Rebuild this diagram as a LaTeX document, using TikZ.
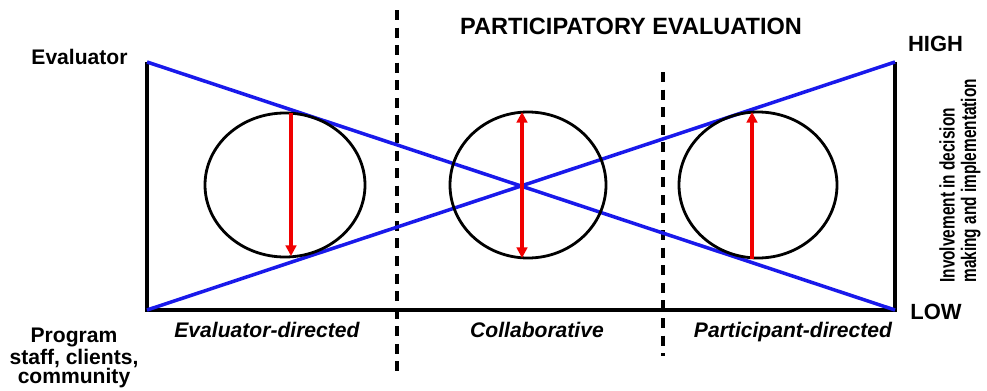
\documentclass[tikz,border=0pt]{standalone}
\usepackage{fontspec}
\setmainfont{Liberation Sans}
\newfontfamily\narrowfont[FakeStretch=0.73]{Liberation Sans}
\usetikzlibrary{arrows.meta}
\definecolor{lineblue}{RGB}{25,25,235}
\definecolor{arrowred}{RGB}{240,0,0}

\begin{document}
\begin{tikzpicture}[x=0.2mm,y=-0.2mm,
  >={Triangle[width=6pt,length=6pt]},
  frame/.style={line width=2pt,black},
  trend/.style={line width=2pt,lineblue},
  ring/.style={line width=1.6pt,black},
  reach/.style={line width=2pt,arrowred},
  divider/.style={line width=1.9pt,dash pattern=on 5.7pt off 4.3pt},
  lbl/.style={font=\bfseries\fontsize{12}{10.8}\selectfont,inner sep=0pt},
  mode/.style={font=\bfseries\itshape\fontsize{12}{14}\selectfont,inner sep=0pt,anchor=base}]
  \useasboundingbox (0,0) rectangle (987,390);
  % frame
  \coordinate (tl) at (147,62);
  \coordinate (bl) at (147,310);
  \coordinate (br) at (895,310);
  \coordinate (tr) at (895,62);
  \draw[frame] (tl) -- (bl) -- (br) -- (tr);
  % dashed dividers
  \draw[divider] (397,10) -- (397,378);
  \draw[divider] (663,72) -- (663,356);
  % blue lines
  \draw[trend] (tl) -- (br);
  \draw[trend] (bl) -- (tr);
  % circles
  \draw[ring] (285,185) ellipse (80 and 72);
  \draw[ring] (528,185) ellipse (78 and 73);
  \draw[ring] (758,185) ellipse (79 and 73);
  % red arrows
  \coordinate (l top) at (291,113);
  \coordinate (l bot) at (291,256);
  \coordinate (m top) at (522,112);
  \coordinate (m bot) at (522,258);
  \coordinate (r top) at (752,112);
  \coordinate (r bot) at (752,259);
  \draw[reach,->] (l top) -- (l bot);
  \draw[reach,<->] (m top) -- (m bot);
  \draw[reach,->] (r bot) -- (r top);
  % labels
  \node[lbl,font=\bfseries\fontsize{13.4}{15}\selectfont] (title) at (631,26) {PARTICIPATORY EVALUATION};
  \node[lbl] (evaluator) at (79.5,57) {Evaluator};
  \node[lbl,align=center,anchor=north] (program) at (74,328) {Program\\staff, clients,\\community};
  \node[lbl,font=\bfseries\fontsize{12.5}{14}\selectfont] (high) at (935.5,43.5) {HIGH};
  \node[lbl,font=\bfseries\fontsize{12.5}{14}\selectfont] (low) at (936,312) {LOW};
  \node[inner sep=0pt,rotate=90,anchor=north west,align=left,
    font=\narrowfont\bfseries\fontsize{12}{12.2}\selectfont] (axis) at (939,283)
    {Involvement in decision\\making and implementation};
  \node[mode] (evdir) at (267,337) {Evaluator-directed};
  \node[mode] (collab) at (537,337) {Collaborative};
  \node[mode] (partdir) at (793,337) {Participant-directed};
\end{tikzpicture}
\end{document}
